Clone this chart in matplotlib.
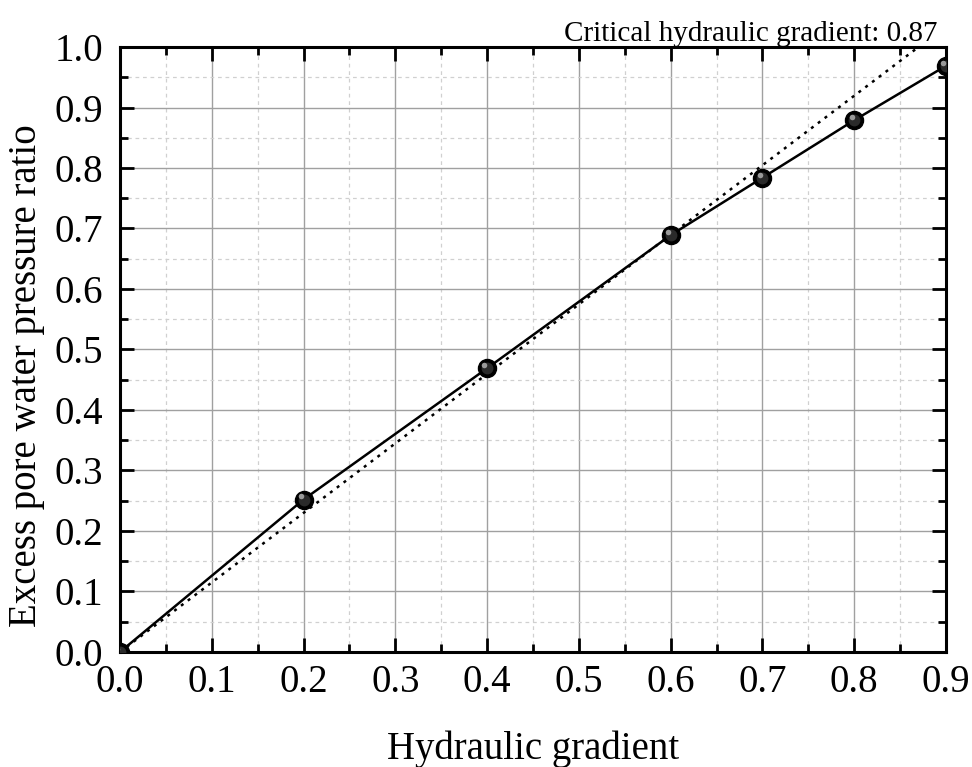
import matplotlib.pyplot as plt
from matplotlib.ticker import MultipleLocator
import numpy as np

plt.rcParams['font.family'] = ['Liberation Serif', 'DejaVu Serif']

# measured pore pressure ratio vs hydraulic gradient
gradient = [0.0, 0.2, 0.4, 0.6, 0.7, 0.8, 0.9]
ratio = [0.0, 0.252, 0.469, 0.689, 0.784, 0.879, 0.969]
i_crit = 0.87

fig = plt.figure(figsize=(9.72, 7.67), dpi=100)
ax = fig.add_axes([0.1235, 0.150, 0.8498, 0.7887])

# theoretical line reaching 1.0 at the critical gradient
ax.plot([0, i_crit], [0, 1.0], color='black', lw=1.8, ls=(0, (1.2, 2.2)), zorder=3)
ax.plot(gradient, ratio, color='black', lw=1.8, zorder=4)

# shaded ball markers
ax.plot(gradient, ratio, 'o', ms=13, color='black', mec='black', zorder=5)
ax.plot(gradient, ratio, 'o', ms=8.5, color='#2a2a2a', mec='none', zorder=6)
ax.plot(np.array(gradient) - 0.003, np.array(ratio) + 0.005, 'o', ms=4,
        color='#9a9a9a', mec='none', zorder=7)

ax.set_xlim(0, 0.9)
ax.set_ylim(0, 1.0)
ax.xaxis.set_major_locator(MultipleLocator(0.1))
ax.xaxis.set_minor_locator(MultipleLocator(0.05))
ax.yaxis.set_major_locator(MultipleLocator(0.1))
ax.yaxis.set_minor_locator(MultipleLocator(0.05))
ax.xaxis.set_major_formatter(plt.FormatStrFormatter('%.1f'))
ax.yaxis.set_major_formatter(plt.FormatStrFormatter('%.1f'))

ax.grid(which='major', color='#a0a0a0', lw=1.0, ls='-')
ax.grid(which='minor', color='#d0d0d0', lw=0.9, ls=(0, (3, 3)))
ax.set_axisbelow(True)

ax.tick_params(which='both', direction='in', top=True, right=True,
               width=2.0, labelsize=28)
ax.tick_params(axis='x', pad=9)
ax.tick_params(axis='y', pad=12)
ax.tick_params(which='major', length=10)
ax.tick_params(which='minor', length=6)
for s in ax.spines.values():
    s.set_linewidth(2.2)

ax.set_xlabel('Hydraulic gradient', fontsize=28, labelpad=21)
ax.set_ylabel('Excess pore water pressure ratio', fontsize=28, labelpad=7)
ax.yaxis.label.set_y(0.456)
ax.set_title('Critical hydraulic gradient: %.2f' % i_crit, loc='right',
             fontsize=21, pad=4, x=0.99)

fig.savefig('out.png', dpi=100)
